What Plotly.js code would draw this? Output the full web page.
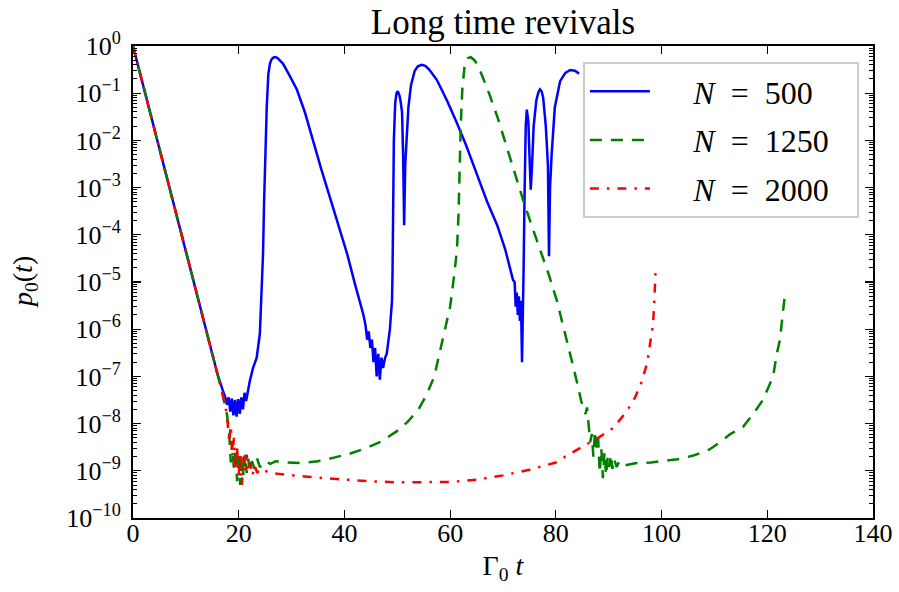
<!DOCTYPE html>
<html>
<head>
<meta charset="utf-8">
<script src="https://cdn.plot.ly/plotly-3.0.1.min.js"></script>
<style>html,body{margin:0;padding:0;background:#fff;}#chart{width:899px;height:592px;}</style>
</head>
<body>
<div id="chart"></div>
<script>
// N = 500
const t500 = [0,1,2,4,6,8,10,12,14,15,16,17,17.5,
  17.8,18.1,18.4,18.7,19.0,19.3,19.6,19.9,20.2,20.5,20.8,21.1,21.4,21.8,
  22.1,22.7,23.4,24.0,24.3,24.6,24.8,25.0,25.3,25.6,25.9,26.2,26.6,26.9,27.3,27.6,28.0,28.4,29.5,31,32.5,34,35.6,37.3,39,40.5,42,42.9,43.6,
  44,44.3,44.6,44.9,45.2,45.5,45.8,46.1,46.4,46.7,47,47.3,47.7,
  48.0,48.6,49.0,49.1,49.2,49.35,49.6,49.85,50.1,50.4,50.6,50.9,51.1,51.3,51.5,51.8,52.1,52.6,53.3,53.9,54.6,55.3,56,57.5,59.4,61.3,63,65,67,68.9,70.4,71.9,
  72.2,72.4,72.6,72.8,73.0,73.2,73.4,73.6,73.75,73.9,74.1,74.3,74.5,74.8,75.0,75.25,75.5,75.8,76.3,76.7,77,77.3,77.6,78.1,78.5,78.7,78.9,79.2,79.8,80.8,81.8,82.7,83.6,84.4];
const p500 = [1,0.37,0.135,0.018,2.5e-3,3.4e-4,4.5e-5,6.1e-6,8.3e-7,3e-7,1.1e-7,5e-8,3.5e-8,
  2.5e-8,3.6e-8,1.8e-8,3.4e-8,1.5e-8,3.2e-8,1.4e-8,3.3e-8,1.6e-8,3.6e-8,2e-8,4.5e-8,3e-8,6e-8,
  8e-8,1.5e-7,2.5e-7,8e-7,4e-6,4e-5,5e-4,5e-3,0.05,0.25,0.42,0.52,0.57,0.58,0.56,0.52,0.47,0.42,0.25,0.12,0.04,0.01,2.5e-3,6e-4,1.5e-4,4e-5,9e-6,4e-6,2e-6,
  1.2e-6,6e-7,9e-7,4e-7,6e-7,2e-7,4e-7,1e-7,3e-7,8.5e-8,2.5e-7,1.5e-7,2.5e-7,
  3e-7,1e-6,4e-6,1.6e-5,4e-4,0.01,0.06,0.1,0.11,0.09,0.07,0.04,5e-3,1.6e-4,3e-3,0.01,0.05,0.15,0.3,0.37,0.4,0.38,0.32,0.19,0.07,0.023,8e-3,2e-3,5e-4,1.6e-4,5e-5,1.1e-5,
  1e-5,3e-6,6e-6,2e-6,5e-6,1.5e-6,4e-6,2e-7,1e-5,2e-5,1e-3,0.02,0.045,0.025,5e-3,9e-4,3e-3,0.02,0.07,0.105,0.12,0.11,0.08,0.02,3e-3,3.5e-5,1e-3,5e-3,0.05,0.18,0.27,0.31,0.3,0.26];

// N = 1250
const t1250 = [0,1,2,4,6,8,10,12,14,16,17,17.8,
  18.2,18.5,18.8,19.1,19.4,19.7,20.0,20.3,20.6,20.9,21.2,21.5,21.8,22.1,22.5,23,23.5,24,25,26,27,29,32,35,38,41,44,47,50,52,54,55.5,57,58,59,60,60.8,61.3,61.6,61.8,62,62.3,62.7,63.3,63.9,64.6,65.3,66.3,67.5,69,70.7,72.2,73.8,75.4,77,78.6,80.2,81.4,82.3,83.3,84.2,84.8,85.3,85.6,85.9,86.2,86.5,
  86.8,87.1,87.4,87.7,88,88.3,88.6,88.9,89.2,89.5,89.8,90.1,90.4,90.7,91.0,91.5,92,93,95,98,100,103,106,109,111,113,115.4,117.5,119.2,120.3,121.1,121.8,122.4,122.9,123.3];
const p1250 = [1,0.37,0.135,0.018,2.5e-3,3.4e-4,4.5e-5,6.1e-6,8.3e-7,1.1e-7,4e-8,1.5e-8,
  6e-9,1.5e-9,4e-9,1e-9,3e-9,6e-10,2.5e-9,5e-10,2e-9,8e-10,2.2e-9,9e-10,1.8e-9,1e-9,1.6e-9,1.1e-9,1.8e-9,1.2e-9,1.6e-9,1.4e-9,1.6e-9,1.5e-9,1.45e-9,1.6e-9,1.9e-9,2.3e-9,3e-9,4.2e-9,7e-9,1.1e-8,2e-8,4e-8,1e-7,3e-7,1e-6,3e-6,1.5e-5,5e-5,3e-4,3e-3,0.02,0.12,0.35,0.55,0.58,0.5,0.38,0.2,0.09,0.03,7e-3,2e-3,5.5e-4,1.6e-4,5e-5,1.5e-5,4e-6,1.2e-6,5e-7,1.6e-7,6e-8,3e-8,2e-8,1.6e-8,2.2e-8,1e-8,4e-9,
  6e-9,2e-9,7e-9,3e-9,5e-9,9e-10,3e-9,7e-10,2.5e-9,8e-10,2e-9,1.2e-9,2.2e-9,1.1e-9,1.8e-9,1.2e-9,1.6e-9,1.3e-9,1.45e-9,1.5e-9,1.6e-9,1.75e-9,2.1e-9,2.8e-9,4e-9,6e-9,8.5e-9,1.7e-8,3.2e-8,6e-8,1e-7,3e-7,6e-7,2e-6,5e-6];

// N = 2000
const t2000 = [0,1,2,4,6,8,10,12,14,16,17,17.8,
  18.2,18.5,18.8,19.1,19.4,19.7,20,20.3,20.6,20.9,21.2,21.5,21.8,22.2,22.6,23,23.5,24,25,26,28,30,33,36,40,45,50,55,60,65,70,75,80,82.1,85.1,88,90.8,93.4,95,96.3,97.3,98,98.4,98.6,98.9];
const p2000 = [1,0.37,0.135,0.018,2.5e-3,3.4e-4,4.5e-5,6.1e-6,8.3e-7,1.1e-7,4e-8,1.5e-8,
  4e-9,9e-9,2e-9,5e-9,1.2e-9,3e-9,8e-10,2.5e-9,5e-10,2e-9,1e-9,2.2e-9,1e-9,1.5e-9,8e-10,1.3e-9,9e-10,1.1e-9,1e-9,9e-10,8.5e-10,8e-10,7.5e-10,7e-10,6.5e-10,6e-10,5.7e-10,5.7e-10,5.8e-10,6.5e-10,8e-10,1.05e-9,1.5e-9,2.1e-9,3.2e-9,5e-9,8e-9,1.8e-8,3.6e-8,8e-8,2e-7,6e-7,1.3e-6,3.5e-6,2.1e-5];

const seriesNames = ['\u2003\u2009<i>N</i>\u2002=\u2002500\u2002\u2009', '\u2003\u2009<i>N</i>\u2002=\u20021250\u2002\u2009', '\u2003\u2009<i>N</i>\u2002=\u20022000\u2002\u2009'];
const yTickVals = [1,1e-1,1e-2,1e-3,1e-4,1e-5,1e-6,1e-7,1e-8,1e-9,1e-10];
const yTickText = ['10<sup>0</sup>','10<sup>\u22121</sup>','10<sup>\u22122</sup>','10<sup>\u22123</sup>','10<sup>\u22124</sup>','10<sup>\u22125</sup>','10<sup>\u22126</sup>','10<sup>\u22127</sup>','10<sup>\u22128</sup>','10<sup>\u22129</sup>','10<sup>\u221210</sup>'];
const xTickVals = [0,20,40,60,80,100,120,140];
const yTitle = '<i>p</i><sub>0</sub>(<i>t</i>)';

const FONT = 'Liberation Serif, DejaVu Serif, serif';

const traces = [
  {x: t500, y: p500, name: seriesNames[0], mode: 'lines', legendgroup: 'a',
   line: {color: '#0000ff', width: 2.5}},
  {x: t1250, y: p1250, name: seriesNames[1], mode: 'lines', legendgroup: 'b',
   line: {color: '#008000', width: 2.5, dash: '12px,9px'}},
  {x: t2000, y: p2000, name: seriesNames[2], mode: 'lines', legendgroup: 'c',
   line: {color: '#ff0000', width: 2.5, dash: '9px,8px,2.5px,8px'}}
];

const layout = {
  width: 899, height: 592,
  margin: {l: 133, r: 26, t: 46, b: 74},
  paper_bgcolor: '#fff', plot_bgcolor: '#fff',
  font: {family: FONT, color: '#000', size: 20},
  title: {text: 'Long time revivals', font: {size: 35, family: FONT},
          x: 0.5, xref: 'paper', y: 1 - 22/592, yref: 'container', yanchor: 'middle'},
  showlegend: true,
  legend: {x: 0.608, y: 0.966, xanchor: 'left', yanchor: 'top',
           bgcolor: '#fff', bordercolor: '#cccccc', borderwidth: 2,
           font: {size: 32, family: FONT}, traceorder: 'grouped', tracegroupgap: 4,
           itemwidth: 60},
  annotations: [{text: yTitle, xref: 'paper', yref: 'paper', x: (24 - 133) / 740, y: 0.5,
                 xanchor: 'center', yanchor: 'middle', textangle: -90, showarrow: false,
                 font: {size: 28, family: FONT, color: '#000'}}],
  xaxis: {
    range: [0, 140], tickmode: 'array', tickvals: xTickVals,
    ticks: 'inside', ticklen: 8, tickwidth: 1.2, tickcolor: '#000',
    showline: true, linecolor: '#000', linewidth: 2, mirror: 'ticks',
    showgrid: false, zeroline: false, ticklabelstandoff: -9,
    tickfont: {size: 26, family: FONT},
    title: {text: '\u0393<sub>0</sub> <i>t</i>', font: {size: 28, family: FONT}, standoff: 8}
  },
  yaxis: {
    type: 'log', range: [-10, 0], tickmode: 'array', tickvals: yTickVals, ticktext: yTickText,
    ticks: 'inside', ticklen: 8, tickwidth: 1.2, tickcolor: '#000',
    minor: {ticks: 'inside', ticklen: 4, tickwidth: 1, tickcolor: '#000', dtick: 'D1', showgrid: false},
    showline: true, linecolor: '#000', linewidth: 2, mirror: 'ticks',
    showgrid: false, zeroline: false, ticklabelstandoff: 5,
    tickfont: {size: 26, family: FONT}
  }
};

Plotly.newPlot('chart', traces, layout, {displayModeBar: false, staticPlot: true});
</script>
</body>
</html>
